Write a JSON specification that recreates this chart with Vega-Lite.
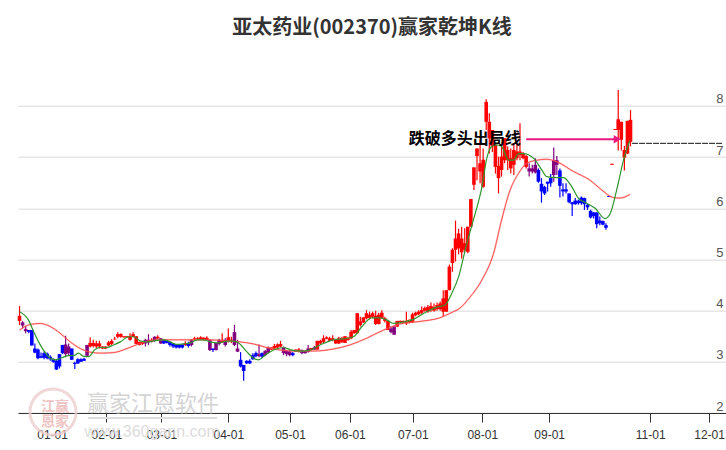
{
  "$schema": "https://vega.github.io/schema/vega-lite/v6.json",
  "autosize": {"type": "none"},
  "padding": {"left": 18, "top": 54.8, "right": 0, "bottom": 37},
  "width": 708,
  "height": 358.2,
  "background": "white",
  "view": {"stroke": null},
  "title": {
    "text": "亚太药业(002370)赢家乾坤K线",
    "anchor": "middle",
    "frame": "group",
    "font": "Noto Sans CJK SC",
    "fontSize": 20,
    "fontWeight": "bold",
    "color": "#333333",
    "offset": 17
  },
  "datasets": {
    "candles": [
      {"d":0,"h":4.09,"o":3.8,"c":3.9,"l":3.72,"k":"up"},
      {"d":1,"h":3.8,"o":3.77,"c":3.71,"l":3.65,"k":"mix"},
      {"d":2,"h":3.7,"o":3.64,"c":3.6,"l":3.56,"k":"mix"},
      {"d":3,"h":3.62,"o":3.62,"c":3.59,"l":3.56,"k":"down"},
      {"d":4,"h":3.62,"o":3.62,"c":3.32,"l":3.32,"k":"down"},
      {"d":5,"h":3.36,"o":3.26,"c":3.18,"l":3.17,"k":"down"},
      {"d":6,"h":3.26,"o":3.24,"c":3.07,"l":3.05,"k":"down"},
      {"d":7,"h":3.18,"o":3.11,"c":3.08,"l":3.07,"k":"down"},
      {"d":8,"h":3.2,"o":3.17,"c":3.08,"l":3.05,"k":"down"},
      {"d":9,"h":3.18,"o":3.16,"c":3.07,"l":3.05,"k":"down"},
      {"d":10,"h":3.13,"o":3.1,"c":3.05,"l":3.02,"k":"down"},
      {"d":11,"h":3.07,"o":3.05,"c":3.0,"l":2.98,"k":"down"},
      {"d":12,"h":3.04,"o":3.02,"c":2.85,"l":2.84,"k":"down"},
      {"d":13,"h":3.15,"o":3.15,"c":2.91,"l":2.87,"k":"down"},
      {"d":14,"h":3.33,"o":3.33,"c":3.17,"l":3.15,"k":"down"},
      {"d":15,"h":3.51,"o":3.34,"c":3.15,"l":3.1,"k":"mix"},
      {"d":16,"h":3.36,"o":3.3,"c":3.17,"l":3.13,"k":"mix"},
      {"d":17,"h":3.26,"o":3.26,"c":3.04,"l":3.04,"k":"down"},
      {"d":18,"h":3.0,"o":2.98,"c":2.96,"l":2.86,"k":"down"},
      {"d":19,"h":3.07,"o":3.05,"c":2.97,"l":2.96,"k":"down"},
      {"d":20,"h":3.07,"o":3.05,"c":3.0,"l":3.0,"k":"down"},
      {"d":21,"h":3.08,"o":3.06,"c":3.02,"l":3.02,"k":"down"},
      {"d":22,"h":3.33,"o":3.33,"c":3.12,"l":3.11,"k":"mix"},
      {"d":23,"h":3.48,"o":3.3,"c":3.37,"l":3.28,"k":"up"},
      {"d":24,"h":3.43,"o":3.31,"c":3.37,"l":3.28,"k":"up"},
      {"d":25,"h":3.41,"o":3.3,"c":3.36,"l":3.27,"k":"up"},
      {"d":26,"h":3.41,"o":3.3,"c":3.36,"l":3.26,"k":"up"},
      {"d":27,"h":3.3,"o":3.26,"c":3.3,"l":3.25,"k":"up"},
      {"d":28,"h":3.3,"o":3.26,"c":3.3,"l":3.25,"k":"up"},
      {"d":29,"h":3.41,"o":3.32,"c":3.38,"l":3.3,"k":"up"},
      {"d":30,"h":3.44,"o":3.35,"c":3.41,"l":3.33,"k":"up"},
      {"d":31,"h":3.49,"o":3.44,"c":3.45,"l":3.43,"k":"up"},
      {"d":32,"h":3.58,"o":3.49,"c":3.54,"l":3.46,"k":"up"},
      {"d":33,"h":3.56,"o":3.49,"c":3.54,"l":3.47,"k":"up"},
      {"d":34,"h":3.5,"o":3.48,"c":3.5,"l":3.47,"k":"up"},
      {"d":35,"h":3.5,"o":3.48,"c":3.5,"l":3.47,"k":"up"},
      {"d":36,"h":3.56,"o":3.43,"c":3.5,"l":3.41,"k":"up"},
      {"d":37,"h":3.58,"o":3.49,"c":3.54,"l":3.48,"k":"up"},
      {"d":38,"h":3.5,"o":3.35,"c":3.5,"l":3.35,"k":"up"},
      {"d":39,"h":3.39,"o":3.33,"c":3.39,"l":3.32,"k":"up"},
      {"d":40,"h":3.39,"o":3.35,"c":3.39,"l":3.33,"k":"up"},
      {"d":41,"h":3.45,"o":3.43,"c":3.36,"l":3.3,"k":"mix"},
      {"d":42,"h":3.54,"o":3.43,"c":3.38,"l":3.33,"k":"mix"},
      {"d":43,"h":3.46,"o":3.39,"c":3.43,"l":3.38,"k":"up"},
      {"d":44,"h":3.5,"o":3.49,"c":3.41,"l":3.39,"k":"mix"},
      {"d":45,"h":3.52,"o":3.46,"c":3.49,"l":3.43,"k":"up"},
      {"d":46,"h":3.46,"o":3.46,"c":3.36,"l":3.35,"k":"mix"},
      {"d":47,"h":3.43,"o":3.43,"c":3.36,"l":3.35,"k":"down"},
      {"d":48,"h":3.41,"o":3.41,"c":3.37,"l":3.36,"k":"down"},
      {"d":49,"h":3.39,"o":3.39,"c":3.33,"l":3.3,"k":"down"},
      {"d":50,"h":3.36,"o":3.36,"c":3.3,"l":3.27,"k":"down"},
      {"d":51,"h":3.34,"o":3.34,"c":3.28,"l":3.26,"k":"down"},
      {"d":52,"h":3.33,"o":3.33,"c":3.28,"l":3.26,"k":"down"},
      {"d":53,"h":3.34,"o":3.34,"c":3.28,"l":3.26,"k":"down"},
      {"d":54,"h":3.4,"o":3.33,"c":3.37,"l":3.31,"k":"up"},
      {"d":55,"h":3.39,"o":3.36,"c":3.31,"l":3.28,"k":"down"},
      {"d":56,"h":3.44,"o":3.43,"c":3.33,"l":3.3,"k":"mix"},
      {"d":57,"h":3.49,"o":3.44,"c":3.46,"l":3.43,"k":"up"},
      {"d":58,"h":3.48,"o":3.44,"c":3.46,"l":3.43,"k":"up"},
      {"d":59,"h":3.5,"o":3.44,"c":3.48,"l":3.43,"k":"up"},
      {"d":60,"h":3.48,"o":3.43,"c":3.47,"l":3.42,"k":"up"},
      {"d":61,"h":3.5,"o":3.43,"c":3.47,"l":3.42,"k":"up"},
      {"d":62,"h":3.44,"o":3.43,"c":3.23,"l":3.21,"k":"mix"},
      {"d":63,"h":3.26,"o":3.26,"c":3.23,"l":3.19,"k":"down"},
      {"d":64,"h":3.37,"o":3.37,"c":3.23,"l":3.22,"k":"mix"},
      {"d":65,"h":3.45,"o":3.43,"c":3.35,"l":3.32,"k":"mix"},
      {"d":66,"h":3.56,"o":3.39,"c":3.43,"l":3.37,"k":"up"},
      {"d":67,"h":3.46,"o":3.43,"c":3.33,"l":3.3,"k":"mix"},
      {"d":68,"h":3.65,"o":3.41,"c":3.48,"l":3.38,"k":"up"},
      {"d":69,"h":3.49,"o":3.41,"c":3.43,"l":3.37,"k":"up"},
      {"d":70,"h":3.72,"o":3.58,"c":3.33,"l":3.31,"k":"mix"},
      {"d":71,"h":3.43,"o":3.26,"c":3.2,"l":3.19,"k":"mix"},
      {"d":72,"h":3.19,"o":3.04,"c":2.91,"l":2.89,"k":"down"},
      {"d":73,"h":2.94,"o":2.94,"c":2.82,"l":2.63,"k":"down"},
      {"d":74,"h":3.03,"o":3.02,"c":2.97,"l":2.96,"k":"down"},
      {"d":75,"h":3.05,"o":3.02,"c":2.97,"l":2.96,"k":"down"},
      {"d":76,"h":3.17,"o":3.13,"c":3.05,"l":3.04,"k":"down"},
      {"d":77,"h":3.2,"o":3.17,"c":3.11,"l":3.09,"k":"down"},
      {"d":78,"h":3.34,"o":3.15,"c":3.11,"l":3.09,"k":"mix"},
      {"d":79,"h":3.18,"o":3.17,"c":3.1,"l":3.07,"k":"down"},
      {"d":80,"h":3.23,"o":3.21,"c":3.13,"l":3.11,"k":"mix"},
      {"d":81,"h":3.3,"o":3.28,"c":3.18,"l":3.17,"k":"mix"},
      {"d":82,"h":3.28,"o":3.24,"c":3.28,"l":3.23,"k":"up"},
      {"d":83,"h":3.35,"o":3.26,"c":3.31,"l":3.24,"k":"up"},
      {"d":84,"h":3.36,"o":3.28,"c":3.34,"l":3.26,"k":"up"},
      {"d":85,"h":3.41,"o":3.3,"c":3.35,"l":3.28,"k":"up"},
      {"d":86,"h":3.3,"o":3.28,"c":3.17,"l":3.13,"k":"mix"},
      {"d":87,"h":3.23,"o":3.22,"c":3.15,"l":3.11,"k":"mix"},
      {"d":88,"h":3.23,"o":3.2,"c":3.13,"l":3.11,"k":"mix"},
      {"d":89,"h":3.19,"o":3.17,"c":3.13,"l":3.11,"k":"down"},
      {"d":90,"h":3.24,"o":3.2,"c":3.24,"l":3.19,"k":"up"},
      {"d":91,"h":3.27,"o":3.21,"c":3.24,"l":3.18,"k":"up"},
      {"d":92,"h":3.24,"o":3.23,"c":3.17,"l":3.15,"k":"mix"},
      {"d":93,"h":3.21,"o":3.21,"c":3.17,"l":3.16,"k":"mix"},
      {"d":94,"h":3.33,"o":3.26,"c":3.19,"l":3.18,"k":"mix"},
      {"d":95,"h":3.27,"o":3.23,"c":3.27,"l":3.22,"k":"up"},
      {"d":96,"h":3.31,"o":3.28,"c":3.24,"l":3.23,"k":"mix"},
      {"d":97,"h":3.41,"o":3.24,"c":3.41,"l":3.24,"k":"up"},
      {"d":98,"h":3.43,"o":3.36,"c":3.41,"l":3.34,"k":"up"},
      {"d":99,"h":3.52,"o":3.39,"c":3.46,"l":3.36,"k":"up"},
      {"d":100,"h":3.5,"o":3.45,"c":3.48,"l":3.44,"k":"up"},
      {"d":101,"h":3.49,"o":3.41,"c":3.46,"l":3.4,"k":"up"},
      {"d":102,"h":3.52,"o":3.43,"c":3.46,"l":3.4,"k":"up"},
      {"d":103,"h":3.43,"o":3.36,"c":3.43,"l":3.35,"k":"up"},
      {"d":104,"h":3.49,"o":3.36,"c":3.46,"l":3.35,"k":"up"},
      {"d":105,"h":3.49,"o":3.39,"c":3.46,"l":3.37,"k":"up"},
      {"d":106,"h":3.5,"o":3.37,"c":3.5,"l":3.37,"k":"up"},
      {"d":107,"h":3.49,"o":3.43,"c":3.46,"l":3.41,"k":"up"},
      {"d":108,"h":3.62,"o":3.46,"c":3.59,"l":3.44,"k":"up"},
      {"d":109,"h":3.62,"o":3.56,"c":3.62,"l":3.55,"k":"up"},
      {"d":110,"h":3.95,"o":3.56,"c":3.95,"l":3.55,"k":"up"},
      {"d":111,"h":3.88,"o":3.72,"c":3.79,"l":3.69,"k":"up"},
      {"d":112,"h":3.87,"o":3.77,"c":3.87,"l":3.76,"k":"up"},
      {"d":113,"h":4.01,"o":3.85,"c":3.95,"l":3.83,"k":"up"},
      {"d":114,"h":3.98,"o":3.86,"c":3.92,"l":3.83,"k":"up"},
      {"d":115,"h":3.98,"o":3.88,"c":3.95,"l":3.85,"k":"up"},
      {"d":116,"h":4.0,"o":3.74,"c":3.9,"l":3.72,"k":"up"},
      {"d":117,"h":3.96,"o":3.74,"c":3.92,"l":3.73,"k":"up"},
      {"d":118,"h":4.01,"o":3.86,"c":3.96,"l":3.84,"k":"up"},
      {"d":119,"h":3.88,"o":3.8,"c":3.85,"l":3.77,"k":"up"},
      {"d":120,"h":3.8,"o":3.62,"c":3.8,"l":3.62,"k":"up"},
      {"d":121,"h":3.69,"o":3.65,"c":3.58,"l":3.56,"k":"mix"},
      {"d":122,"h":3.69,"o":3.69,"c":3.53,"l":3.53,"k":"mix"},
      {"d":123,"h":3.8,"o":3.69,"c":3.8,"l":3.68,"k":"up"},
      {"d":124,"h":3.81,"o":3.77,"c":3.8,"l":3.75,"k":"up"},
      {"d":125,"h":3.81,"o":3.77,"c":3.8,"l":3.76,"k":"up"},
      {"d":126,"h":3.98,"o":3.75,"c":3.8,"l":3.72,"k":"up"},
      {"d":127,"h":3.83,"o":3.77,"c":3.82,"l":3.75,"k":"up"},
      {"d":128,"h":3.96,"o":3.78,"c":3.93,"l":3.76,"k":"up"},
      {"d":129,"h":3.98,"o":3.91,"c":3.96,"l":3.89,"k":"up"},
      {"d":130,"h":4.01,"o":3.93,"c":3.98,"l":3.91,"k":"up"},
      {"d":131,"h":4.08,"o":3.96,"c":4.01,"l":3.93,"k":"up"},
      {"d":132,"h":4.08,"o":4.0,"c":4.05,"l":3.98,"k":"up"},
      {"d":133,"h":4.11,"o":3.98,"c":4.07,"l":3.96,"k":"up"},
      {"d":134,"h":4.16,"o":4.01,"c":4.09,"l":3.98,"k":"up"},
      {"d":135,"h":4.14,"o":4.0,"c":4.07,"l":3.98,"k":"up"},
      {"d":136,"h":4.16,"o":4.03,"c":4.11,"l":4.0,"k":"up"},
      {"d":137,"h":4.18,"o":4.03,"c":4.14,"l":4.0,"k":"up"},
      {"d":138,"h":4.4,"o":3.98,"c":4.24,"l":3.9,"k":"up"},
      {"d":139,"h":4.4,"o":3.98,"c":4.4,"l":3.98,"k":"up"},
      {"d":140,"h":4.9,"o":4.4,"c":4.86,"l":4.4,"k":"up"},
      {"d":141,"h":5.22,"o":4.93,"c":5.19,"l":4.76,"k":"up"},
      {"d":142,"h":5.76,"o":5.19,"c":5.41,"l":4.96,"k":"up"},
      {"d":143,"h":5.6,"o":5.22,"c":5.51,"l":5.1,"k":"up"},
      {"d":144,"h":5.64,"o":5.14,"c":5.41,"l":5.02,"k":"up"},
      {"d":145,"h":5.61,"o":5.19,"c":5.32,"l":5.15,"k":"up"},
      {"d":146,"h":5.64,"o":5.15,"c":5.64,"l":5.12,"k":"up"},
      {"d":147,"h":6.18,"o":5.64,"c":6.18,"l":5.64,"k":"up"},
      {"d":148,"h":6.8,"o":6.46,"c":6.8,"l":6.36,"k":"up"},
      {"d":149,"h":7.17,"o":7.02,"c":7.17,"l":6.55,"k":"up"},
      {"d":150,"h":7.34,"o":6.72,"c":6.88,"l":6.49,"k":"up"},
      {"d":151,"h":7.17,"o":6.42,"c":6.95,"l":6.4,"k":"up"},
      {"d":152,"h":8.13,"o":7.69,"c":8.08,"l":7.53,"k":"up"},
      {"d":153,"h":7.86,"o":7.37,"c":7.69,"l":7.07,"k":"up"},
      {"d":154,"h":7.53,"o":7.21,"c":7.53,"l":7.1,"k":"up"},
      {"d":155,"h":7.24,"o":6.81,"c":7.24,"l":6.68,"k":"up"},
      {"d":156,"h":7.01,"o":6.59,"c":6.83,"l":6.29,"k":"up"},
      {"d":157,"h":7.21,"o":6.75,"c":7.01,"l":6.62,"k":"up"},
      {"d":158,"h":7.37,"o":6.94,"c":7.37,"l":6.88,"k":"up"},
      {"d":159,"h":7.21,"o":6.94,"c":7.14,"l":6.75,"k":"up"},
      {"d":160,"h":7.17,"o":6.78,"c":6.98,"l":6.68,"k":"up"},
      {"d":161,"h":7.27,"o":6.85,"c":7.14,"l":6.65,"k":"up"},
      {"d":162,"h":7.27,"o":6.98,"c":7.11,"l":6.94,"k":"up"},
      {"d":163,"h":7.66,"o":7.04,"c":7.11,"l":6.94,"k":"up"},
      {"d":164,"h":7.1,"o":6.98,"c":7.07,"l":6.96,"k":"up"},
      {"d":165,"h":7.04,"o":6.81,"c":7.02,"l":6.78,"k":"up"},
      {"d":166,"h":6.88,"o":6.78,"c":6.72,"l":6.62,"k":"mix"},
      {"d":167,"h":6.85,"o":6.78,"c":6.72,"l":6.68,"k":"mix"},
      {"d":168,"h":6.98,"o":6.85,"c":6.7,"l":6.68,"k":"mix"},
      {"d":169,"h":6.78,"o":6.75,"c":6.52,"l":6.5,"k":"down"},
      {"d":170,"h":6.59,"o":6.48,"c":6.33,"l":6.11,"k":"down"},
      {"d":171,"h":6.44,"o":6.42,"c":6.29,"l":6.26,"k":"down"},
      {"d":172,"h":6.52,"o":6.52,"c":6.48,"l":6.33,"k":"down"},
      {"d":173,"h":6.67,"o":6.59,"c":6.49,"l":6.42,"k":"down"},
      {"d":174,"h":7.19,"o":6.94,"c":6.65,"l":6.52,"k":"mix"},
      {"d":175,"h":7.02,"o":6.94,"c":6.85,"l":6.65,"k":"mix"},
      {"d":176,"h":6.78,"o":6.74,"c":6.44,"l":6.21,"k":"down"},
      {"d":177,"h":6.49,"o":6.37,"c":6.33,"l":6.23,"k":"down"},
      {"d":178,"h":6.49,"o":6.37,"c":6.33,"l":6.29,"k":"down"},
      {"d":179,"h":6.29,"o":6.29,"c":6.12,"l":6.1,"k":"down"},
      {"d":180,"h":6.12,"o":6.12,"c":6.08,"l":5.85,"k":"down"},
      {"d":181,"h":6.2,"o":6.15,"c":6.08,"l":6.07,"k":"down"},
      {"d":182,"h":6.17,"o":6.15,"c":6.1,"l":6.07,"k":"down"},
      {"d":183,"h":6.23,"o":6.21,"c":6.1,"l":6.07,"k":"down"},
      {"d":184,"h":6.21,"o":6.2,"c":6.08,"l":5.97,"k":"down"},
      {"d":185,"h":6.08,"o":6.07,"c":6.02,"l":5.97,"k":"down"},
      {"d":186,"h":5.97,"o":5.95,"c":5.82,"l":5.8,"k":"down"},
      {"d":187,"h":5.93,"o":5.92,"c":5.85,"l":5.8,"k":"down"},
      {"d":188,"h":5.92,"o":5.92,"c":5.69,"l":5.61,"k":"down"},
      {"d":189,"h":5.84,"o":5.76,"c":5.71,"l":5.67,"k":"down"},
      {"d":190,"h":5.76,"o":5.75,"c":5.68,"l":5.67,"k":"down"},
      {"d":191,"h":5.71,"o":5.67,"c":5.62,"l":5.58,"k":"down"},
      {"d":192,"h":6.24,"o":6.24,"c":6.22,"l":6.22,"k":"down"},
      {"d":193,"h":6.87,"o":6.85,"c":6.87,"l":6.85,"k":"up"},
      {"d":194,"h":7.55,"o":7.53,"c":7.55,"l":7.53,"k":"up"},
      {"d":195,"h":8.31,"o":7.53,"c":7.74,"l":7.13,"k":"up"},
      {"d":196,"h":7.69,"o":7.34,"c":7.69,"l":7.13,"k":"up"},
      {"d":197,"h":7.22,"o":6.99,"c":7.14,"l":6.74,"k":"up"},
      {"d":198,"h":7.71,"o":7.07,"c":7.71,"l":7.06,"k":"up"},
      {"d":199,"h":7.92,"o":7.3,"c":7.73,"l":7.21,"k":"up"}
    ],
    "fast": [
      {"d":0,"v":3.98},{"d":2.9,"v":3.82},{"d":4.6,"v":3.59},{"d":6.2,"v":3.39},{"d":7.8,"v":3.23},{"d":10,"v":3.07},
      {"d":11.6,"v":3.04},{"d":13.8,"v":3.08},{"d":16,"v":3.12},{"d":17.6,"v":3.12},{"d":19.2,"v":3.17},{"d":20.8,"v":3.11},
      {"d":22.5,"v":3.1},{"d":24.6,"v":3.24},{"d":26.3,"v":3.28},{"d":28.4,"v":3.28},{"d":30.6,"v":3.33},{"d":32.8,"v":3.39},
      {"d":35.5,"v":3.49},{"d":37.1,"v":3.49},{"d":39.3,"v":3.41},{"d":41.5,"v":3.39},{"d":43.6,"v":3.41},{"d":46.9,"v":3.43},
      {"d":49.1,"v":3.39},{"d":51.2,"v":3.34},{"d":53.4,"v":3.35},{"d":55.6,"v":3.37},{"d":57.8,"v":3.43},{"d":59.9,"v":3.43},
      {"d":62.1,"v":3.39},{"d":64.3,"v":3.37},{"d":66.4,"v":3.39},{"d":68.6,"v":3.41},{"d":70.8,"v":3.39},{"d":74,"v":3.2},
      {"d":76.2,"v":3.07},{"d":77.8,"v":3.04},{"d":80,"v":3.13},{"d":82.7,"v":3.23},{"d":86,"v":3.28},{"d":88.1,"v":3.24},
      {"d":91.4,"v":3.21},{"d":94.6,"v":3.23},{"d":97.9,"v":3.33},{"d":102.2,"v":3.43},{"d":105.5,"v":3.45},{"d":108.8,"v":3.49},
      {"d":111.5,"v":3.69},{"d":114.7,"v":3.86},{"d":117.4,"v":3.86},{"d":119.6,"v":3.82},{"d":121.8,"v":3.75},{"d":125,"v":3.78},
      {"d":128.3,"v":3.83},{"d":132.6,"v":3.98},{"d":135.9,"v":4.07},{"d":138.6,"v":4.11},{"d":140.8,"v":4.34},{"d":143,"v":4.66},
      {"d":145.7,"v":5.32},{"d":147.8,"v":5.77},{"d":150.6,"v":6.42},{"d":152.2,"v":6.98},{"d":153.8,"v":7.21},{"d":155.4,"v":7.24},
      {"d":157,"v":7.21},{"d":159.3,"v":6.94},{"d":160.9,"v":6.94},{"d":162.5,"v":7.07},{"d":164.1,"v":7.07},{"d":167.4,"v":6.98},
      {"d":170.1,"v":6.75},{"d":171.7,"v":6.62},{"d":175,"v":6.6},{"d":177.2,"v":6.6},{"d":179.9,"v":6.42},{"d":182,"v":6.2},
      {"d":184.8,"v":6.1},{"d":187.5,"v":6.0},{"d":190.7,"v":5.8},{"d":192.4,"v":5.9},{"d":195,"v":6.49},{"d":196.7,"v":6.94},{"d":198.8,"v":7.33}
    ],
    "slow": [
      {"d":0,"v":3.62},{"d":2.9,"v":3.72},{"d":6.7,"v":3.75},{"d":10,"v":3.69},{"d":13.2,"v":3.56},{"d":16.5,"v":3.39},
      {"d":19.8,"v":3.26},{"d":23,"v":3.19},{"d":26.3,"v":3.17},{"d":30.6,"v":3.18},{"d":35,"v":3.26},{"d":39.3,"v":3.36},
      {"d":44.7,"v":3.43},{"d":50.2,"v":3.43},{"d":55.6,"v":3.43},{"d":61,"v":3.43},{"d":67.5,"v":3.41},{"d":71.8,"v":3.39},
      {"d":76.2,"v":3.35},{"d":80.5,"v":3.28},{"d":84.9,"v":3.23},{"d":89.2,"v":3.21},{"d":95.7,"v":3.21},{"d":102.2,"v":3.25},
      {"d":107.6,"v":3.33},{"d":113,"v":3.46},{"d":118.5,"v":3.62},{"d":123.9,"v":3.74},{"d":130.4,"v":3.79},{"d":136.9,"v":3.86},
      {"d":141.3,"v":3.98},{"d":143,"v":4.03},{"d":146.8,"v":4.27},{"d":150.6,"v":4.6},{"d":154.4,"v":5.12},{"d":157,"v":5.77},
      {"d":159.8,"v":6.36},{"d":162.5,"v":6.68},{"d":165.2,"v":6.88},{"d":168.5,"v":6.94},{"d":171.7,"v":6.96},{"d":175,"v":6.91},
      {"d":180.4,"v":6.72},{"d":185.8,"v":6.55},{"d":189.6,"v":6.36},{"d":193.4,"v":6.21},{"d":195.6,"v":6.2},{"d":198.8,"v":6.27}
    ]
  },
  "data": {"name": "candles"},
  "encoding": {
    "x": {
      "field": "d",
      "type": "quantitative",
      "scale": {"domain": [-0.5, 230.1], "nice": false, "zero": false, "padding": 0},
      "axis": {
        "title": null,
        "grid": false,
        "values": [10.6, 28.3, 46.2, 68, 88.1, 107.6, 128.1, 150.7, 172.5, 205.4, 224.6],
        "labelExpr": "{'10.6':'01-01','28.3':'02-01','46.2':'03-01','68':'04-01','88.1':'05-01','107.6':'06-01','128.1':'07-01','150.7':'08-01','172.5':'09-01','205.4':'11-01','224.6':'12-01'}[datum.value]",
        "labelFont": "Liberation Sans",
        "labelFontSize": 12,
        "labelColor": "#333333",
        "labelPadding": 7,
        "labelOverlap": false,
        "labelFlush": false,
        "tickSize": 9,
        "tickColor": "#333333",
        "domainColor": "#333333"
      }
    },
    "y": {
      "type": "quantitative",
      "scale": {"domain": [2, 9], "nice": false, "zero": false},
      "axis": {
        "title": null,
        "orient": "right",
        "values": [2, 3, 4, 5, 6, 7, 8],
        "domain": false,
        "ticks": false,
        "grid": true,
        "gridColor": "#e6e6e6",
        "gridWidth": 1.5,
        "labelFont": "Liberation Sans",
        "labelFontSize": 13,
        "labelColor": "#555555",
        "labelAlign": "right",
        "labelBaseline": "bottom",
        "labelOffset": 0,
        "labelPadding": -3
      }
    }
  },
  "layer": [
    {
      "mark": {"type": "rule", "strokeWidth": 1.2},
      "encoding": {
        "y": {"field": "h", "type": "quantitative"},
        "y2": {"field": "l"},
        "color": {
          "field": "k",
          "type": "nominal",
          "scale": {"domain": ["up", "down", "mix"], "range": ["#ff0000", "#0000ff", "#800080"]},
          "legend": null
        }
      }
    },
    {
      "mark": {"type": "bar", "size": 3.6},
      "encoding": {
        "y": {"field": "o", "type": "quantitative"},
        "y2": {"field": "c"},
        "color": {"field": "k", "type": "nominal", "legend": null}
      }
    },
    {
      "data": {"name": "slow"},
      "mark": {"type": "line", "stroke": "#ff4d4d", "strokeWidth": 2, "opacity": 0.25, "interpolate": "monotone"},
      "encoding": {"y": {"field": "v", "type": "quantitative"}}
    },
    {
      "data": {"name": "slow"},
      "mark": {"type": "line", "stroke": "#ff4d4d", "strokeWidth": 1, "interpolate": "monotone"},
      "encoding": {"y": {"field": "v", "type": "quantitative"}}
    },
    {
      "data": {"name": "fast"},
      "mark": {"type": "line", "stroke": "#2f952f", "strokeWidth": 1.2, "interpolate": "monotone"},
      "encoding": {"y": {"field": "v", "type": "quantitative"}}
    },
    {
      "data": {"values": [{"d": 199.5, "d2": 228.9, "v": 7.27}]},
      "mark": {"type": "rule", "stroke": "#111111", "strokeWidth": 1, "strokeDash": [6, 1]},
      "encoding": {"y": {"field": "v", "type": "quantitative"}, "x2": {"field": "d2"}}
    },
    {
      "data": {"values": [{"d": 165, "d2": 195, "v": 7.35}]},
      "mark": {"type": "rule", "stroke": "#e8197f", "strokeWidth": 2},
      "encoding": {"y": {"field": "v", "type": "quantitative"}, "x2": {"field": "d2"}}
    },
    {
      "data": {"values": [{"d": 194.7, "v": 7.35}]},
      "mark": {"type": "point", "shape": "triangle-right", "filled": true, "fill": "#e8197f", "opacity": 1, "size": 70},
      "encoding": {"y": {"field": "v", "type": "quantitative"}}
    },
    {
      "data": {"values": [{"d": 145, "v": 7.35, "t": "跌破多头出局线"}]},
      "mark": {"type": "text", "font": "Noto Sans CJK SC", "fontWeight": "bold", "fontSize": 16, "color": "#000000", "baseline": "middle"},
      "encoding": {"y": {"field": "v", "type": "quantitative"}, "text": {"field": "t"}}
    },
    {
      "data": {"values": [{"d": 10.9, "v": 2.02}]},
      "mark": {"type": "point", "shape": "circle", "filled": false, "stroke": "#eecfcf", "strokeWidth": 3, "opacity": 0.8, "size": 2124},
      "encoding": {"y": {"field": "v", "type": "quantitative"}}
    },
    {
      "data": {"values": [
        {"d": 9.3, "v": 2.12, "t": "江"},
        {"d": 13.8, "v": 2.12, "t": "赢"},
        {"d": 9.3, "v": 1.82, "t": "恩"},
        {"d": 13.8, "v": 1.82, "t": "家"}
      ]},
      "mark": {"type": "text", "font": "Noto Sans CJK SC", "fontWeight": "bold", "fontSize": 14, "color": "#eec4c4", "baseline": "middle"},
      "encoding": {"y": {"field": "v", "type": "quantitative"}, "text": {"field": "t"}}
    },
    {
      "data": {"values": [{"d": 43.5, "v": 2.18, "t": "赢家江恩软件"}]},
      "mark": {"type": "text", "font": "Noto Sans CJK SC", "fontSize": 22, "color": "#d4d4d4", "baseline": "middle"},
      "encoding": {"y": {"field": "v", "type": "quantitative"}, "text": {"field": "t"}}
    },
    {
      "data": {"values": [{"d": 22.3, "d2": 64.3, "v": 1.9}]},
      "mark": {"type": "rule", "stroke": "#dddddd", "strokeWidth": 2},
      "encoding": {"y": {"field": "v", "type": "quantitative"}, "x2": {"field": "d2"}}
    },
    {
      "data": {"values": [{"d": 43.2, "v": 1.63, "t": "www.360gann.com"}]},
      "mark": {"type": "text", "font": "Liberation Sans", "fontSize": 16, "color": "#dcdcdc", "baseline": "middle"},
      "encoding": {"y": {"field": "v", "type": "quantitative"}, "text": {"field": "t"}}
    }
  ]
}
